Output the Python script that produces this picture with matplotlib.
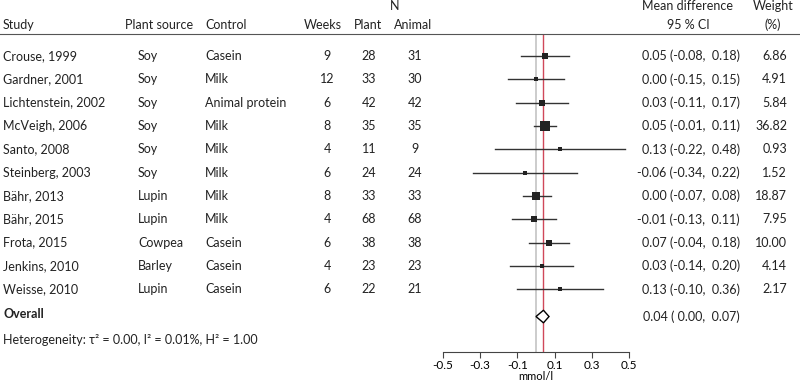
import numpy as np
import matplotlib
matplotlib.use("Agg")
import matplotlib.pyplot as plt
from matplotlib.transforms import blended_transform_factory
from matplotlib.patches import Polygon

plt.rcParams['font.family'] = ['Lato', 'DejaVu Sans']
plt.rcParams['font.size'] = 9

# study data
studies = ["Crouse, 1999", "Gardner, 2001", "Lichtenstein, 2002", "McVeigh, 2006",
           "Santo, 2008", "Steinberg, 2003", "Bähr, 2013", "Bähr, 2015",
           "Frota, 2015", "Jenkins, 2010", "Weisse, 2010"]
sources = ["Soy", "Soy", "Soy", "Soy", "Soy", "Soy", "Lupin", "Lupin",
           "Cowpea", "Barley", "Lupin"]
controls = ["Casein", "Milk", "Animal protein", "Milk", "Milk", "Milk", "Milk",
            "Milk", "Casein", "Casein", "Casein"]
weeks = [9, 12, 6, 8, 4, 6, 8, 4, 6, 4, 6]
n_plant = [28, 33, 42, 35, 11, 24, 33, 68, 38, 23, 22]
n_animal = [31, 30, 42, 35, 9, 24, 33, 68, 38, 23, 21]
md = [0.05, 0.00, 0.03, 0.05, 0.13, -0.06, 0.00, -0.01, 0.07, 0.03, 0.13]
ci_lo = [-0.08, -0.15, -0.11, -0.01, -0.22, -0.34, -0.07, -0.13, -0.04, -0.14, -0.10]
ci_hi = [0.18, 0.15, 0.17, 0.11, 0.48, 0.22, 0.08, 0.11, 0.18, 0.20, 0.36]
weight = [6.86, 4.91, 5.84, 36.82, 0.93, 1.52, 18.87, 7.95, 10.00, 4.14, 2.17]
overall_md, overall_lo, overall_hi = 0.04, 0.00, 0.07
xticks = [-0.5, -0.3, -0.1, 0.1, 0.3, 0.5]

W, H = 800, 388
fig = plt.figure(figsize=(W / 100, H / 100), dpi=100)

# forest axes: x=-0.5 at px 443, x=0.5 at px 629; bottom at px 352, top at px 34
ax = fig.add_axes([443 / W, (H - 352) / H, 186 / W, (352 - 34) / H])
ax.set_xlim(-0.5, 0.5)
ax.set_ylim(12.69, -0.943)   # row index units, row i at px 56 + 23.33*i
for s in ["top", "right", "left"]:
    ax.spines[s].set_visible(False)
ax.spines["bottom"].set_color("#444444")
ax.spines["bottom"].set_linewidth(0.8)
ax.set_yticks([])
ax.set_xticks(xticks)
ax.set_xticklabels([f"{t:.1f}" for t in xticks], fontsize=8.5)
ax.tick_params(axis="x", length=4, width=0.8, color="#444444", pad=2)
ax.set_xlabel("mmol/l", fontsize=8, labelpad=0)

ax.axvline(0, color="#c4c4c4", lw=1.2, zorder=1)
ax.axvline(overall_md, color="#d0485a", lw=1.0, zorder=1)

rows = np.arange(len(studies))
for i in rows:
    ax.plot([ci_lo[i], ci_hi[i]], [i, i], color="#333333", lw=1.0, zorder=2, clip_on=False)
    side_px = 1.7 + 1.37 * np.sqrt(weight[i])
    ax.plot(md[i], i, marker="s", color="#222222", markersize=side_px * 0.72,
            markeredgewidth=0, zorder=3, clip_on=False)

y_overall = 11.17
dh = 0.27
diamond = Polygon([(overall_lo, y_overall), (overall_md, y_overall - dh),
                   (overall_hi, y_overall), (overall_md, y_overall + dh)],
                  closed=True, facecolor="white", edgecolor="black", lw=1.0, zorder=4)
ax.add_patch(diamond)

# table text
tr = blended_transform_factory(fig.transFigure, ax.transData)
def px(x):
    return x / W

y_head, y_n = -1.33, -2.14
tc = "#222222"
ax.text(px(3), y_head, "Study", transform=tr, va="center", ha="left", color=tc)
ax.text(px(125), y_head, "Plant source", transform=tr, va="center", ha="left", color=tc)
ax.text(px(205), y_head, "Control", transform=tr, va="center", ha="left", color=tc)
ax.text(px(323), y_head, "Weeks", transform=tr, va="center", ha="center", color=tc)
ax.text(px(368), y_head, "Plant", transform=tr, va="center", ha="center", color=tc)
ax.text(px(413), y_head, "Animal", transform=tr, va="center", ha="center", color=tc)
ax.text(px(395), y_n, "N", transform=tr, va="center", ha="center", color=tc)
ax.text(px(688), y_n, "Mean difference", transform=tr, va="center", ha="center", color=tc)
ax.text(px(688), y_head, "95 % CI", transform=tr, va="center", ha="center", color=tc)
ax.text(px(773), y_n, "Weight", transform=tr, va="center", ha="center", color=tc)
ax.text(px(773), y_head, "(%)", transform=tr, va="center", ha="center", color=tc)

ax.plot([0, 1], [-0.943, -0.943], transform=tr, color="#555555", lw=0.8, clip_on=False)

for i in rows:
    ax.text(px(3), i, studies[i], transform=tr, va="center", ha="left", color=tc)
    ax.text(px(138), i, sources[i], transform=tr, va="center", ha="left", color=tc)
    ax.text(px(205), i, controls[i], transform=tr, va="center", ha="left", color=tc)
    ax.text(px(327), i, str(weeks[i]), transform=tr, va="center", ha="center", color=tc)
    ax.text(px(369), i, str(n_plant[i]), transform=tr, va="center", ha="center", color=tc)
    ax.text(px(415), i, str(n_animal[i]), transform=tr, va="center", ha="center", color=tc)
    ax.text(px(740), i, f"{md[i]:.2f} ({ci_lo[i]:5.2f}, {ci_hi[i]:5.2f})",
            transform=tr, va="center", ha="right", color=tc)
    ax.text(px(787), i, f"{weight[i]:.2f}", transform=tr, va="center", ha="right", color=tc)

ax.text(px(3), y_overall - 0.1, "Overall", transform=tr, va="center", ha="left",
        fontweight="bold", color=tc)
ax.text(px(740), y_overall, f"{overall_md:.2f} ({overall_lo:5.2f}, {overall_hi:5.2f})",
        transform=tr, va="center", ha="right", color=tc)
ax.text(px(3), 12.17, "Heterogeneity: τ² = 0.00, I² = 0.01%, H² = 1.00",
        transform=tr, va="center", ha="left", color=tc)

fig.savefig("out.png", dpi=100)
